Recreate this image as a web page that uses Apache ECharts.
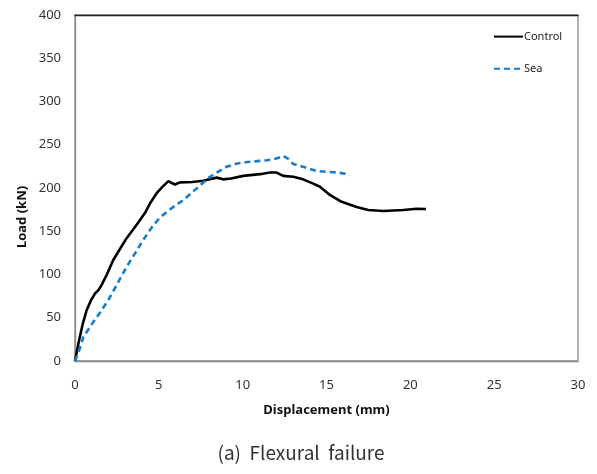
<!DOCTYPE html>
<html>
<head>
<meta charset="utf-8">
<script src="https://cdn.jsdelivr.net/npm/echarts@6/dist/echarts.min.js"></script>
<style>
  html, body { margin: 0; padding: 0; background: #fff; }
  #chart { width: 597px; height: 474px; }
</style>
</head>
<body>
<div id="chart"></div>
<script>
// displacement (mm) / load (kN)
var controlDisp = [0, 0.2, 0.45, 0.7, 0.95, 1.19, 1.4, 1.59, 1.9, 2.29, 2.7, 3.08, 3.5, 3.88, 4.2, 4.47, 4.87, 5.2, 5.57, 5.75, 5.96, 6.26, 7.0, 7.65, 8.45, 8.84, 9.3, 10.04, 11.03, 11.63, 11.99, 12.42, 13.02, 13.6, 14.21, 14.61, 15.2, 15.9, 16.8, 17.49, 18.38, 19.58, 20.37, 20.93]
var controlLoad = [0, 20, 42, 59, 70, 78, 82, 88, 100, 117, 130, 142, 153, 163, 172, 182, 194, 201, 208, 206, 204, 206.5, 207, 208.4, 212, 210, 211, 214, 216, 218, 218, 214, 213, 210, 205, 201.5, 192, 184, 178, 174.5, 173.4, 174.5, 176, 175.7]
var seaDisp = [0, 0.26, 0.5, 1.09, 1.6, 2.09, 2.6, 3.08, 3.6, 4.07, 4.6, 5.07, 5.86, 6.46, 7.05, 8.05, 9.04, 9.6, 10.24, 11.43, 12.0, 12.42, 12.7, 13.02, 13.7, 14.41, 15.6, 16.1, 16.36]
var seaLoad = [0, 13, 28, 45, 59, 74, 92, 109, 125, 140, 155, 166, 178, 186, 196, 213, 224.6, 228, 230, 232, 234, 237, 234, 227.7, 224, 219.6, 218, 216.5, 214]

function pairs(xs, ys) {
  return xs.map(function (x, i) { return [x, ys[i]] })
}

var chart = echarts.init(document.getElementById('chart'))
var labelFont = 'Noto Sans, DejaVu Sans, sans-serif'

var option = {
  animation: false,
  backgroundColor: '#fff',
  grid: {
    left: 75,
    right: 19,
    top: 15,
    bottom: 113,
    show: true,
    borderColor: '#8a8a8a',
    borderWidth: 1.3
  },
  legend: {
    orient: 'vertical',
    left: 493,
    top: 31,
    padding: 0,
    itemWidth: 29,
    itemHeight: 14,
    itemGap: 21,
    itemStyle: { opacity: 0 },
    textStyle: { fontFamily: labelFont, fontSize: 11, color: '#222', padding: [0, 0, 0, -4] },
    data: ['Control', 'Sea']
  },
  xAxis: [
    {
      type: 'value',
      min: 0,
      max: 30,
      interval: 5,
      name: 'Displacement (mm)',
      nameLocation: 'middle',
      nameGap: 43,
      nameTextStyle: { fontFamily: labelFont, fontWeight: 'bold', fontSize: 13, color: '#111' },
      axisLine: { show: true, lineStyle: { color: '#8a8a8a', width: 1.3 } },
      axisTick: { show: false },
      splitLine: { show: false },
      axisLabel: { margin: 18, fontFamily: labelFont, fontSize: 13, color: '#333' }
    },
    {
      type: 'value',
      position: 'top',
      min: 0,
      max: 30,
      axisLine: { show: true, onZero: false, lineStyle: { color: '#222', width: 1.3 } },
      axisTick: { show: false },
      axisLabel: { show: false },
      splitLine: { show: false }
    }
  ],
  yAxis: {
    type: 'value',
    min: 0,
    max: 400,
    interval: 50,
    axisLine: { show: true, lineStyle: { color: '#8a8a8a', width: 1.3 } },
    axisTick: { show: false },
    splitLine: { show: false },
    axisLabel: { margin: 14, fontFamily: labelFont, fontSize: 13, color: '#333' }
  },
  graphic: [
    {
      type: 'text',
      x: 22,
      y: 217,
      rotation: Math.PI / 2,
      style: {
        text: 'Load (kN)',
        fontFamily: labelFont,
        fontWeight: 'bold',
        fontSize: 13,
        fill: '#111',
        align: 'center',
        verticalAlign: 'middle'
      }
    },
    {
      type: 'text',
      x: 301,
      y: 453,
      style: {
        text: '(a)  Flexural  failure',
        fontFamily: 'Noto Sans CJK KR, Noto Sans, sans-serif',
        fontSize: 19,
        fill: '#333',
        align: 'center',
        verticalAlign: 'middle'
      }
    }
  ],
  series: [
    {
      name: 'Control',
      type: 'line',
      showSymbol: false,
      symbol: 'none',
      data: pairs(controlDisp, controlLoad),
      lineStyle: { color: '#000', width: 2.6 },
      itemStyle: { color: '#000' }
    },
    {
      name: 'Sea',
      type: 'line',
      showSymbol: false,
      symbol: 'none',
      data: pairs(seaDisp, seaLoad),
      lineStyle: { color: '#1b7bcb', width: 2.6, type: [6, 4] },
      itemStyle: { color: '#1b7bcb' }
    }
  ]
}

chart.setOption(option)
</script>
</body>
</html>
